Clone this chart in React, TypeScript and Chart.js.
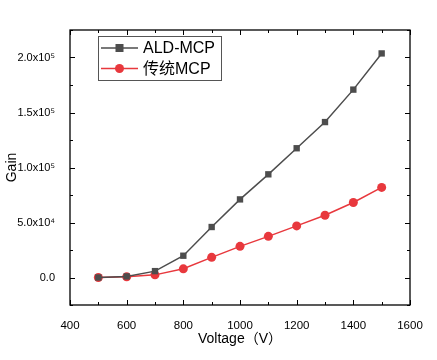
import React, { useEffect, useRef } from "react";
import { Chart, registerables } from "chart.js";

Chart.register(...registerables);

const voltages = [500, 600, 700, 800, 900, 1000, 1100, 1200, 1300, 1400, 1500];
const aldGain = [0, 1000, 5800, 19800, 45900, 71000, 93800, 117500, 141300, 170800, 203700];
const tradGain = [0, 600, 2400, 7900, 18300, 28300, 37400, 46900, 56600, 68200, 81900];
const seriesNames = ["ALD-MCP", "传统MCP"];
const yLabels: Record<number, string> = {
  0: "0.0",
  50000: "5.0x10⁴",
  100000: "1.0x10⁵",
  150000: "1.5x10⁵",
  200000: "2.0x10⁵",
};

const FONT = "'Liberation Sans', Arial, 'Noto Sans CJK SC', sans-serif";
const DARK = "#4d4d4d";
const RED = "#e8383d";

const framePlugin = {
  id: "frameTicks",
  afterDraw(chart: any) {
    const { ctx, chartArea: a, scales } = chart;
    const xs = scales.x;
    const ys = scales.y;
    ctx.save();
    ctx.strokeStyle = "#000";
    ctx.lineWidth = 1.3;
    ctx.strokeRect(a.left, a.top, a.right - a.left, a.bottom - a.top);
    ctx.lineWidth = 1;
    for (let v = 400; v <= 1600; v += 100) {
      const px = Math.round(xs.getPixelForValue(v)) + 0.5;
      const len = v % 200 === 0 ? 5 : 3;
      ctx.beginPath();
      ctx.moveTo(px, a.bottom);
      ctx.lineTo(px, a.bottom - len);
      ctx.moveTo(px, a.top);
      ctx.lineTo(px, a.top + len);
      ctx.stroke();
    }
    for (let v = -25000; v <= 225000; v += 25000) {
      const py = Math.round(ys.getPixelForValue(v)) + 0.5;
      const len = v % 50000 === 0 ? 5 : 3;
      ctx.beginPath();
      ctx.moveTo(a.left, py);
      ctx.lineTo(a.left + len, py);
      ctx.moveTo(a.right, py);
      ctx.lineTo(a.right - len, py);
      ctx.stroke();
    }
    // legend
    const lx = a.left + 28;
    const ly = a.top + 6;
    const lw = 123;
    const lh = 44;
    ctx.strokeStyle = "#555";
    ctx.lineWidth = 1;
    ctx.strokeRect(lx + 0.5, ly + 0.5, lw, lh);
    ctx.font = `16px ${FONT}`;
    ctx.textBaseline = "middle";
    ctx.textAlign = "left";
    const rows = [
      { y: ly + 12, color: DARK, square: true },
      { y: ly + 32.5, color: RED, square: false },
    ];
    rows.forEach((r, i) => {
      ctx.strokeStyle = r.color;
      ctx.lineWidth = 1.5;
      ctx.beginPath();
      ctx.moveTo(lx + 3, r.y);
      ctx.lineTo(lx + 40, r.y);
      ctx.stroke();
      ctx.fillStyle = r.color;
      if (r.square) {
        ctx.fillRect(lx + 21.5 - 4, r.y - 4, 8, 8);
      } else {
        ctx.beginPath();
        ctx.arc(lx + 21.5, r.y, 4.5, 0, Math.PI * 2);
        ctx.fill();
      }
      ctx.fillStyle = "#000";
      ctx.fillText(seriesNames[i], lx + 45, r.y + 1);
    });
    ctx.restore();
  },
};

export default function App() {
  const ref = useRef<HTMLCanvasElement | null>(null);
  useEffect(() => {
    if (!ref.current) return;
    const chart = new Chart(ref.current, {
      type: "line",
      data: {
        datasets: [
          {
            label: seriesNames[0],
            data: voltages.map((v, i) => ({ x: v, y: aldGain[i] })),
            borderColor: DARK,
            backgroundColor: DARK,
            borderWidth: 1.5,
            pointStyle: "rect",
            pointRadius: 4.5,
            pointBorderWidth: 0,
          },
          {
            label: seriesNames[1],
            data: voltages.map((v, i) => ({ x: v, y: tradGain[i] })),
            borderColor: RED,
            backgroundColor: RED,
            borderWidth: 1.5,
            pointStyle: "circle",
            pointRadius: 4.5,
            pointBorderWidth: 0,
          },
        ],
      },
      options: {
        animation: false,
        responsive: false,
        layout: { padding: { top: 30, right: 27, left: 0, bottom: 0 } },
        plugins: { legend: { display: false }, tooltip: { enabled: false } },
        scales: {
          x: {
            type: "linear",
            min: 400,
            max: 1600,
            ticks: {
              stepSize: 200,
              color: "#000",
              font: { family: FONT, size: 11.5 },
              padding: 6,
              callback: (v: any) => String(v),
            },
            grid: { display: false },
            border: { display: false },
            title: {
              display: true,
              text: "Voltage（V）",
              color: "#000",
              font: { family: FONT, size: 14 },
              padding: { top: 0, bottom: 12 },
            },
            afterFit: (s: any) => {
              s.height = 55;
            },
          },
          y: {
            type: "linear",
            min: -25000,
            max: 225000,
            ticks: {
              stepSize: 25000,
              autoSkip: false,
              color: "#000",
              font: { family: FONT, size: 11 },
              padding: 7,
              callback: (v: any) => yLabels[Math.round(Number(v))] ?? "",
            },
            grid: { display: false },
            border: { display: false },
            title: {
              display: true,
              text: "Gain",
              color: "#000",
              font: { family: FONT, size: 14 },
              padding: { top: 4, bottom: 4 },
            },
            afterFit: (s: any) => {
              s.width = 70;
            },
          },
        },
      },
      plugins: [framePlugin],
    } as any);
    return () => chart.destroy();
  }, []);
  return (
    <div style={{ position: "fixed", left: 0, top: 0, width: 437, height: 360, background: "#fff" }}>
      <canvas ref={ref} width={437} height={360} style={{ width: 437, height: 360 }} />
    </div>
  );
}
